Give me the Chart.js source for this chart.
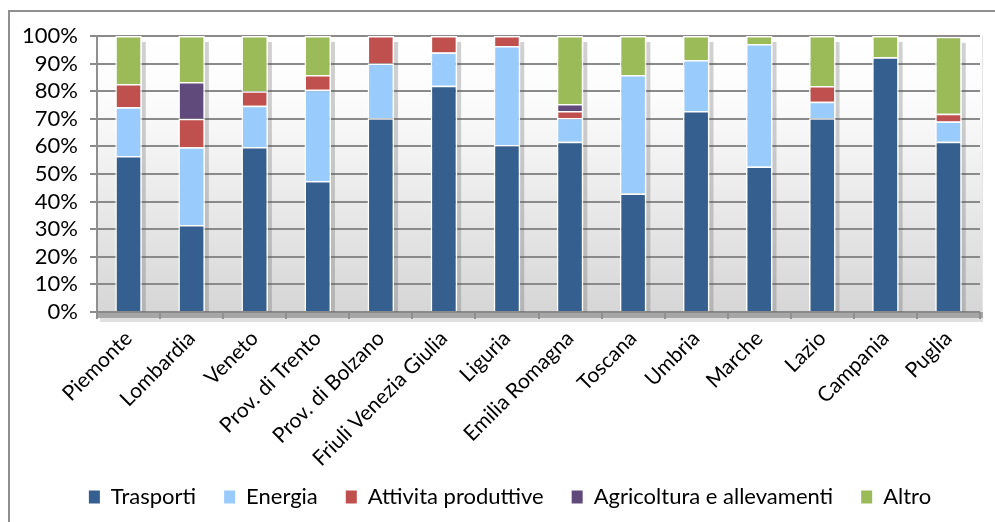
<!DOCTYPE html>
<html lang="it">
<head>
    <meta charset="UTF-8">
    <title>Emissioni per settore</title>
    <script src="https://cdn.jsdelivr.net/npm/chart.js"></script>
    <style>
        html, body {
            margin: 0;
            padding: 0;
            background: #ffffff;
            overflow: hidden;
        }
        canvas { display: block; }
    </style>
</head>
<body>
    <canvas id="chart" width="995" height="522"></canvas>

    <script>
        // dati (percentuali per regione)
        const regioni = ['Piemonte', 'Lombardia', 'Veneto', 'Prov. di Trento', 'Prov. di Bolzano',
            'Friuli Venezia Giulia', 'Liguria', 'Emilia Romagna', 'Toscana', 'Umbria',
            'Marche', 'Lazio', 'Campania', 'Puglia'];
        const trasporti   = [56.5, 31.5, 59.8, 47.5, 70.2, 82.0, 60.5, 61.7, 42.9, 72.8, 52.7, 70.2, 92.3, 61.7];
        const energia     = [17.7, 28.2, 14.9, 33.0, 19.8, 12.0, 35.9,  8.6, 43.0, 18.5, 44.4,  6.0,  0.0,  7.3];
        const attivita    = [ 8.4, 10.3,  5.3,  5.4, 10.0,  6.0,  3.6,  2.5,  0.0,  0.0,  0.0,  5.7,  0.0,  2.8];
        const agricoltura = [ 0.0, 13.3,  0.0,  0.0,  0.0,  0.0,  0.0,  2.6,  0.0,  0.0,  0.0,  0.0,  0.0,  0.0];
        const altro       = [17.4, 16.7, 20.0, 14.1,  0.0,  0.0,  0.0, 24.6, 14.1,  8.7,  2.9, 18.1,  7.7, 27.9];
        const yTicks = [0, 10, 20, 30, 40, 50, 60, 70, 80, 90, 100];

        const fontFamily = 'Lato, "Open Sans", sans-serif';

        // sfondo sfumato, pavimento e cornice esterna
        const decorPlugin = {
            id: 'decor',
            afterLayout(chart) {
                // legenda un po' spostata come nell'originale
                const l = chart.legend;
                l.left += 20;
                l.right += 20;
                l.top -= 14;
                l.bottom = chart.height;
            },
            beforeDraw(chart) {
                const ctx = chart.ctx;
                const a = chart.chartArea;
                ctx.save();
                // cornice
                ctx.strokeStyle = '#8f8f8f';
                ctx.lineWidth = 2;
                ctx.beginPath();
                ctx.moveTo(9, chart.height + 5);
                ctx.lineTo(9, 11);
                ctx.lineTo(chart.width + 5, 11);
                ctx.stroke();
                // parete di fondo
                const g = ctx.createLinearGradient(0, a.top, 0, a.bottom);
                g.addColorStop(0, '#ffffff');
                g.addColorStop(0.25, '#fbfbfb');
                g.addColorStop(1, '#d6d6d6');
                ctx.fillStyle = g;
                ctx.fillRect(a.left, a.top, a.right - a.left + 3, a.bottom - a.top);
                ctx.strokeStyle = '#e4e4e4';
                ctx.lineWidth = 1;
                ctx.beginPath();
                ctx.moveTo(a.right + 2.5, a.top);
                ctx.lineTo(a.right + 2.5, a.bottom);
                ctx.stroke();
                // pavimento
                ctx.fillStyle = '#a6a6a6';
                ctx.fillRect(a.left, a.bottom, a.right - a.left + 3, 6);
                ctx.fillStyle = 'rgba(0,0,0,0.12)';
                ctx.fillRect(a.left + 3, a.bottom + 6, a.right - a.left, 4);
                ctx.restore();
            },
            beforeDatasetsDraw(chart) {
                // ombra a destra di ogni colonna
                const ctx = chart.ctx;
                const y = chart.scales.y;
                const meta = chart.getDatasetMeta(0);
                ctx.save();
                ctx.fillStyle = 'rgba(90,90,90,0.28)';
                meta.data.forEach((bar, i) => {
                    const tot = chart.data.datasets.reduce((s, d) => s + d.data[i], 0);
                    const top = y.getPixelForValue(tot);
                    const right = bar.x + bar.width / 2;
                    ctx.fillRect(right, top + 6, 4, y.getPixelForValue(0) - top - 6);
                });
                ctx.restore();
            }
        };

        const ctx = document.getElementById('chart').getContext('2d');
        new Chart(ctx, {
            type: 'bar',
            data: {
                labels: regioni,
                datasets: [
                    { label: 'Trasporti', data: trasporti, backgroundColor: '#355f8e' },
                    { label: 'Energia', data: energia, backgroundColor: '#99cbfd' },
                    { label: 'Attivita produttive', data: attivita, backgroundColor: '#c0504d' },
                    { label: 'Agricoltura e allevamenti', data: agricoltura, backgroundColor: '#604a7b' },
                    { label: 'Altro', data: altro, backgroundColor: '#9bbb59' }
                ].map(d => Object.assign(d, {
                    borderColor: '#ffffff',
                    borderWidth: 1.5,
                    barPercentage: 0.42,
                    categoryPercentage: 1.0
                }))
            },
            options: {
                responsive: false,
                animation: false,
                devicePixelRatio: 1,
                layout: { padding: { top: 36, right: 15, bottom: 4, left: 0 } },
                scales: {
                    x: {
                        stacked: true,
                        offset: true,
                        border: { display: false },
                        grid: {
                            display: true,
                            drawOnChartArea: false,
                            color: '#8f8f8f',
                            lineWidth: 2,
                            tickLength: 7
                        },
                        ticks: {
                            color: '#000',
                            font: { family: fontFamily, size: 21 },
                            maxRotation: 45,
                            minRotation: 45,
                            autoSkip: false,
                            padding: 7
                        },
                        afterFit(scale) { scale.height = 160; }
                    },
                    y: {
                        stacked: true,
                        min: 0,
                        max: 100,
                        afterBuildTicks(scale) { scale.ticks = yTicks.map(v => ({ value: v })); },
                        border: { display: true, color: '#8f8f8f', width: 2 },
                        grid: {
                            color: '#8a8a8a',
                            lineWidth: 2,
                            tickLength: 7
                        },
                        ticks: {
                            color: '#000',
                            font: { family: fontFamily, size: 22 },
                            padding: 12,
                            autoSkip: false,
                            callback: v => v + '%'
                        },
                        afterFit(scale) { scale.width = 97; }
                    }
                },
                plugins: {
                    legend: {
                        position: 'bottom',
                        maxHeight: 46,
                        labels: {
                            color: '#000',
                            font: { family: fontFamily, size: 22 },
                            boxWidth: 11,
                            boxHeight: 13,
                            padding: 28,
                            generateLabels(chart) {
                                return chart.data.datasets.map((d, i) => ({
                                    text: d.label,
                                    fillStyle: d.backgroundColor,
                                    strokeStyle: d.backgroundColor,
                                    lineWidth: 0,
                                    hidden: false,
                                    datasetIndex: i,
                                    fontColor: '#000'
                                }));
                            }
                        }
                    },
                    tooltip: { enabled: false }
                }
            },
            plugins: [decorPlugin]
        });
    </script>
</body>
</html>
